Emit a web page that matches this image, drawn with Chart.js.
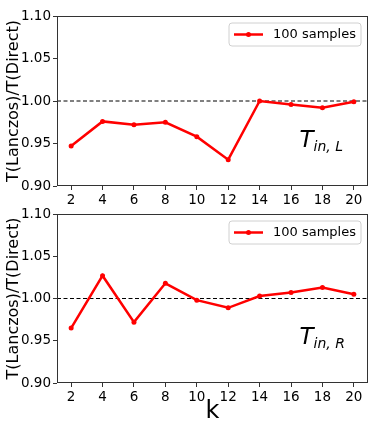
<!DOCTYPE html>
<html>
<head>
<meta charset="utf-8">
<script src="https://cdn.jsdelivr.net/npm/chart.js@4.4.0/dist/chart.umd.min.js"></script>
<style>
  body { margin: 0; background: #fff; }
  #wrap { position: relative; width: 382px; height: 429px; }
  #wrap canvas { position: absolute; left: 0; top: 0; }
</style>
</head>
<body>
<div id="wrap">
  <canvas id="chartL" width="382" height="429"></canvas>
  <canvas id="chartR" width="382" height="429"></canvas>
</div>
<script>
// values
const ks = [2, 4, 6, 8, 10, 12, 14, 16, 18, 20];
const tinL = [0.947, 0.976, 0.972, 0.975, 0.958, 0.931, 1.000, 0.996, 0.992, 0.999];
const tinR = [0.965, 1.027, 0.972, 1.018, 0.998, 0.989, 1.003, 1.007, 1.013, 1.005];
const yTicks = [0.90, 0.95, 1.00, 1.05, 1.10];
const seriesLabel = '100 samples';
const refLine = 1.0;

Chart.defaults.font.family = 'DejaVu Sans';
Chart.defaults.color = '#000';

// frame, dashed reference, legend box and the T label
const decor = {
  id: 'decor',
  beforeDatasetsDraw(chart) {
    const ctx = chart.ctx;
    const a = chart.chartArea;
    const y = chart.scales.y.getPixelForValue(refLine);
    ctx.save();
    ctx.strokeStyle = '#000';
    ctx.lineWidth = 1;
    ctx.setLineDash([4, 2.5]);
    ctx.beginPath();
    ctx.moveTo(a.left, y);
    ctx.lineTo(a.right, y);
    ctx.stroke();
    ctx.restore();
  },
  afterDraw(chart, args, opts) {
    const ctx = chart.ctx;
    const a = chart.chartArea;
    ctx.save();
    ctx.strokeStyle = '#333';
    ctx.lineWidth = 1;
    ctx.strokeRect(a.left + 0.5, a.top + 0.5, a.right - a.left - 1, a.bottom - a.top - 1);

    // legend
    const bw = 132, bh = 23;
    const bx = a.right - 7 - bw, by = a.top + 7;
    ctx.fillStyle = 'rgba(255,255,255,0.85)';
    ctx.strokeStyle = '#d0d0d0';
    ctx.beginPath();
    ctx.roundRect(bx, by, bw, bh, 3);
    ctx.fill();
    ctx.stroke();
    const ly = by + bh / 2;
    ctx.strokeStyle = 'red';
    ctx.lineWidth = 2.5;
    ctx.beginPath();
    ctx.moveTo(bx + 5, ly);
    ctx.lineTo(bx + 34, ly);
    ctx.stroke();
    ctx.fillStyle = 'red';
    ctx.beginPath();
    ctx.arc(bx + 19.5, ly, 2.5, 0, Math.PI * 2);
    ctx.fill();
    ctx.fillStyle = '#000';
    ctx.font = '13px "DejaVu Sans"';
    ctx.textBaseline = 'middle';
    ctx.fillText(chart.data.datasets[0].label, bx + 44, ly + 0.5);

    // T_{in,X}
    const tx = a.left + (a.right - a.left) * 0.78;
    const ty = a.top + (a.bottom - a.top) * 0.77;
    ctx.textBaseline = 'alphabetic';
    ctx.font = 'italic 23px "DejaVu Sans"';
    ctx.fillText('T', tx, ty);
    ctx.font = 'italic 14px "DejaVu Sans"';
    ctx.fillText('in, ' + opts.sub, tx + 14, ty + 4);
    ctx.restore();
  }
};

function makeChart(id, values, sub, isBottom) {
  return new Chart(document.getElementById(id), {
    type: 'line',
    data: {
      datasets: [{
        label: seriesLabel,
        data: ks.map((k, i) => ({ x: k, y: values[i] })),
        borderColor: 'red',
        backgroundColor: 'red',
        borderWidth: 2.5,
        pointRadius: 2.5,
        pointHoverRadius: 2.5,
        pointBorderWidth: 0,
        tension: 0
      }]
    },
    options: {
      responsive: false,
      animation: false,
      events: [],
      layout: {
        padding: isBottom
          ? { top: 214, right: 14, left: 0, bottom: 0 }
          : { top: 16, right: 14, left: 0, bottom: 223 }
      },
      plugins: {
        legend: { display: false },
        tooltip: { enabled: false },
        decor: { sub: sub }
      },
      scales: {
        x: {
          type: 'linear',
          min: 1.1,
          max: 20.9,
          afterBuildTicks: s => { s.ticks = ks.map(v => ({ value: v })); },
          afterFit: s => { s.height = isBottom ? 46 : 20; },
          grid: { drawOnChartArea: false, tickLength: 4, tickColor: '#333' },
          border: { display: false },
          ticks: { font: { size: 13.5 }, padding: 2, maxRotation: 0, autoSkip: false },
          title: {
            display: isBottom,
            text: 'k',
            font: { size: 24 },
            padding: { top: 0, bottom: 3 }
          }
        },
        y: {
          min: 0.9,
          max: 1.1,
          afterBuildTicks: s => { s.ticks = yTicks.map(v => ({ value: v })); },
          afterFit: s => { s.width = 57; },
          grid: { drawOnChartArea: false, tickLength: 4, tickColor: '#333' },
          border: { display: false },
          ticks: { font: { size: 13.5 }, padding: 2, callback: v => v.toFixed(2) },
          title: {
            display: true,
            text: 'T(Lanczos)/T(Direct)',
            font: { size: 16 },
            padding: { top: 4, bottom: 0 }
          }
        }
      }
    },
    plugins: [decor]
  });
}

makeChart('chartL', tinL, 'L', false);
makeChart('chartR', tinR, 'R', true);
</script>
</body>
</html>
